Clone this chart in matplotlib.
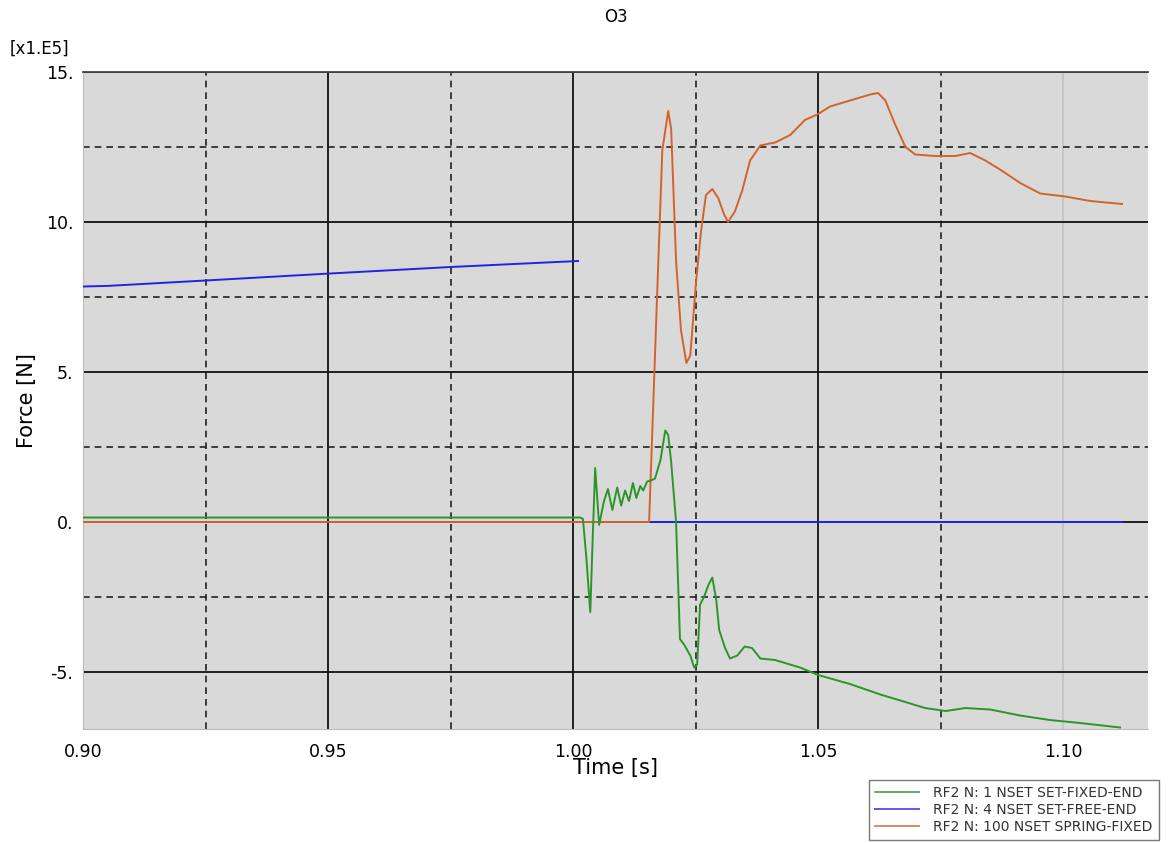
import matplotlib
matplotlib.use("Agg")
import matplotlib.pyplot as plt
from matplotlib.ticker import FixedLocator

# RF2, N: 1 NSET SET-FIXED-END  (force in 1e5 N)
t_fixed = [0.90, 0.95, 1.0015, 1.002, 1.0027, 1.0035, 1.0040, 1.0045, 1.0053, 1.0063,
           1.0071, 1.0080, 1.0090, 1.0098, 1.0106, 1.0114, 1.0122, 1.0129, 1.0137,
           1.0143, 1.0151, 1.0161, 1.0167, 1.0178, 1.0188, 1.0194, 1.0200, 1.0210,
           1.0218, 1.0227, 1.0239, 1.0247, 1.0253, 1.0259, 1.0267, 1.0276, 1.0284,
           1.0292, 1.0298, 1.0310, 1.0320, 1.0335, 1.0350, 1.0365, 1.0382, 1.0412,
           1.0463, 1.0500, 1.0565, 1.0627, 1.0678, 1.0718, 1.0760, 1.0800, 1.0851,
           1.0912, 1.0973, 1.1035, 1.1116]
f_fixed = [0.15, 0.15, 0.15, 0.1, -1.2, -3.0, -0.5, 1.8, -0.1, 0.7,
           1.1, 0.4, 1.15, 0.55, 1.05, 0.7, 1.3, 0.8, 1.2,
           1.05, 1.35, 1.4, 1.45, 2.05, 3.05, 2.9, 2.0, 0.0,
           -3.9, -4.1, -4.45, -4.85, -4.75, -2.75, -2.5, -2.1, -1.85,
           -2.6, -3.6, -4.2, -4.55, -4.45, -4.15, -4.2, -4.55, -4.6,
           -4.85, -5.1, -5.4, -5.75, -6.0, -6.2, -6.3, -6.2, -6.25,
           -6.45, -6.6, -6.7, -6.85]

# RF2, N: 4 NSET SET-FREE-END (NaN = gap in the curve)
t_free = [0.90, 0.905, 0.925, 0.95, 0.975, 1.001, float("nan"), 1.0012, 1.112]
f_free = [7.85, 7.87, 8.05, 8.28, 8.5, 8.7, float("nan"), 0.0, 0.0]

# RF2, N: 100 NSET SPRING-FIXED
t_spring = [0.90, 1.0155, 1.0171, 1.0182, 1.0194, 1.0200, 1.0210, 1.0220, 1.0231,
            1.0239, 1.0251, 1.0261, 1.0271, 1.0284, 1.0296, 1.0308, 1.0316, 1.0330,
            1.0345, 1.0361, 1.0382, 1.0412, 1.0443, 1.0473, 1.0500, 1.0524, 1.0565,
            1.0606, 1.0622, 1.0637, 1.0657, 1.0678, 1.0698, 1.0739, 1.0780, 1.0810,
            1.0841, 1.0871, 1.0912, 1.0953, 1.1004, 1.1055, 1.1120]
f_spring = [0.0, 0.0, 7.4, 12.4, 13.7, 13.1, 8.7, 6.4, 5.3,
            5.55, 8.05, 9.7, 10.9, 11.1, 10.8, 10.25, 10.0, 10.35,
            11.05, 12.05, 12.55, 12.65, 12.9, 13.4, 13.6, 13.85, 14.05,
            14.25, 14.3, 14.05, 13.25, 12.5, 12.25, 12.2, 12.2, 12.3,
            12.05, 11.75, 11.3, 10.95, 10.85, 10.7, 10.6]

x_ticks = [0.90, 0.95, 1.00, 1.05, 1.10]
x_labels = ["0.90", "0.95", "1.00", "1.05", "1.10"]
y_ticks = [-5, 0, 5, 10, 15]
y_labels = ["-5.", "0.", "5.", "10.", "15."]

labels = ["RF2 N: 1 NSET SET-FIXED-END",
          "RF2 N: 4 NSET SET-FREE-END",
          "RF2 N: 100 NSET SPRING-FIXED"]

plt.rcParams["font.family"] = "DejaVu Sans"

fig = plt.figure(figsize=(11.74, 8.43), dpi=100)
ax = fig.add_axes([0.0707, 0.1352, 0.9072, 0.7794])
ax.set_facecolor("#d9d9d9")

# grid: solid at major ticks, dashed in between
ax.xaxis.set_major_locator(FixedLocator(x_ticks))
ax.xaxis.set_minor_locator(FixedLocator([0.925, 0.975, 1.025, 1.075]))
ax.yaxis.set_major_locator(FixedLocator(y_ticks))
ax.yaxis.set_minor_locator(FixedLocator([-2.5, 2.5, 7.5, 12.5]))
ax.set_xticklabels(x_labels)
ax.set_yticklabels(y_labels)
ax.grid(which="major", color="#111111", lw=1.3, ls="-", zorder=1)
ax.grid(which="minor", color="#222222", lw=1.2, ls=(0, (4, 3)), zorder=1)
ax.set_axisbelow(True)
for gl, tv in zip(ax.get_xgridlines(), x_ticks):
    if tv in (0.90, 1.10):
        gl.set_color("#c4c4c4")
ax.tick_params(which="both", length=0)
ax.tick_params(axis="x", pad=10, labelsize=12.5)
ax.tick_params(axis="y", pad=7, labelsize=12.5)

ax.plot(t_free, f_free, color="#2323e6", lw=1.4, zorder=3, label=labels[1])
ax.plot(t_spring, f_spring, color="#d2642a", lw=1.4, zorder=4, label=labels[2])
ax.plot(t_fixed, f_fixed, color="#2a962a", lw=1.4, zorder=5, label=labels[0])

ax.set_xlim(0.90, 1.1173)
ax.set_ylim(-6.9, 15)

for side in ["left", "bottom"]:
    ax.spines[side].set_color("#bbbbbb")
ax.spines["top"].set_color("#444444")
ax.spines["top"].set_linewidth(1.3)
ax.spines["right"].set_visible(False)

ax.set_xlabel("Time [s]", fontsize=15, labelpad=-2)
ax.set_ylabel("Force [N]", fontsize=15, labelpad=6)
ax.set_title("O3", fontsize=12, pad=36)
fig.text(0.008, 0.932, "[x1.E5]", fontsize=12, ha="left", va="bottom")

h, l = ax.get_legend_handles_labels()
order = [2, 0, 1]
leg = fig.legend([h[i] for i in order], [l[i] for i in order],
                 loc="upper left", bbox_to_anchor=(0.740, 1 - 780 / 843),
                 fontsize=10, frameon=True, fancybox=False, edgecolor="#555555",
                 handlelength=3.2, handletextpad=1.0, labelspacing=0.2,
                 borderpad=0.45, borderaxespad=0)
for txt in leg.get_texts():
    txt.set_color("#333333")
for ln in leg.get_lines():
    ln.set_alpha(0.75)

fig.savefig("out.png", dpi=100)
